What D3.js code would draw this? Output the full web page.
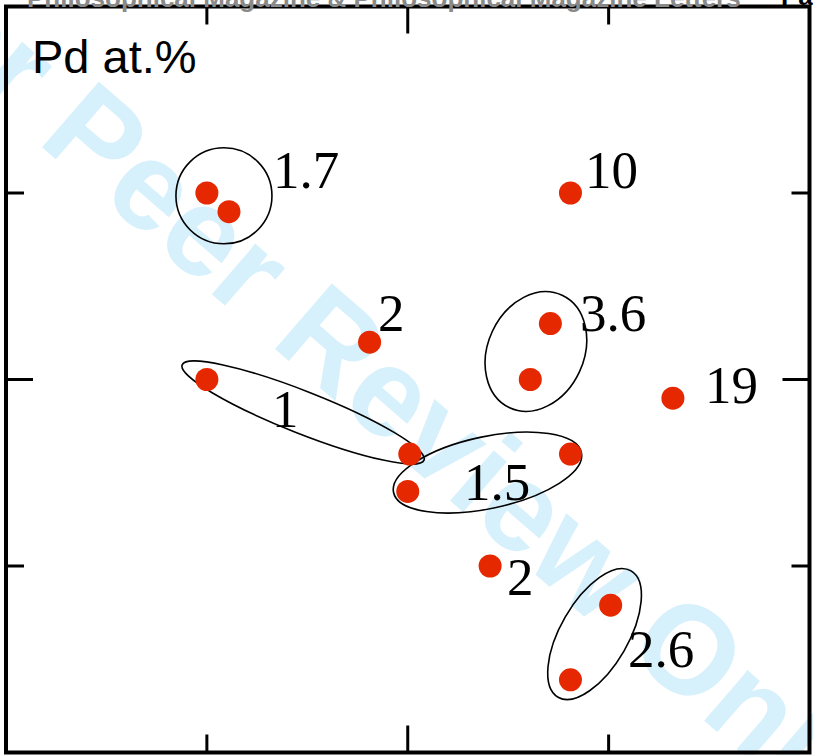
<!DOCTYPE html>
<html>
<head>
<meta charset="utf-8">
<script src="https://cdn.jsdelivr.net/npm/d3@7"></script>
<style>
  body { margin: 0; background: #fff; }
  svg { display: block; }
</style>
</head>
<body>
<svg id="chart" width="813" height="755"></svg>
<script>
// ===============================
// Dades
// ===============================
const xTicks = [1, 2, 3];
const yTicks = [1, 2, 3];

// punts mesurats
const pointX = [1.00, 1.11, 2.81, 1.81, 2.71, 2.61, 3.32, 1.00, 2.01, 2.00, 2.81, 2.41, 3.01, 2.81];
const pointY = [3.00, 2.90, 3.00, 2.20, 2.30, 2.00, 1.90, 2.00, 1.60, 1.40, 1.60, 1.00, 0.79, 0.39];

// grups (el·lipses): centre, semieixos (unitats x) i angle
const groupX = [1.085, 1.479, 2.638, 2.397, 2.930];
const groupY = [2.985, 1.823, 2.150, 1.501, 0.635];
const groupA = [0.239, 0.647, 0.239, 0.478, 0.169];
const groupB = [0.239, 0.105, 0.309, 0.179, 0.363];
const groupAngle = [0, 21.5, 25, -12, 30];

// etiquetes de concentració
const labelText = ["1.7", "10", "2", "3.6", "19", "1", "1.5", "2", "2.6"];
const labelX = [1.329, 2.882, 1.852, 2.857, 3.480, 1.324, 2.280, 2.494, 3.097];
const labelY = [3.027, 3.027, 2.260, 2.260, 1.874, 1.745, 1.354, 0.845, 0.459];

const titleText = "Pd at.%";
const headerText = "Philosophical Magazine & Philosophical Magazine Letters";
const watermarkText = "For Peer Review Only";

// ===============================
// Escales
// ===============================
const svg = d3.select("#chart");

const x = d3.scaleLinear().domain([0, 4]).range([6, 809.5]);
const y = d3.scaleLinear().domain([0, 4]).range([752.5, 6.5]);
const kx = x(1) - x(0);

// ===============================
// Marca d'aigua
// ===============================
svg.append("text")
  .attr("transform", "translate(-144,-14) rotate(40.9)")
  .text(watermarkText)
  .style("font-family", "'Liberation Sans', Arial, sans-serif")
  .style("font-size", "126px")
  .style("font-weight", "bold")
  .style("fill", "#d6f0fc");

// ===============================
// El·lipses
// ===============================
svg.selectAll(".group")
  .data(groupX)
  .enter()
  .append("ellipse")
  .attr("class", "group")
  .attr("transform", (d, i) => `translate(${x(d)},${y(groupY[i])}) rotate(${groupAngle[i]})`)
  .attr("rx", (d, i) => groupA[i] * kx)
  .attr("ry", (d, i) => groupB[i] * kx)
  .attr("fill", "none")
  .attr("stroke", "#000")
  .attr("stroke-width", 1.6);

// ===============================
// Punts
// ===============================
svg.selectAll(".dot")
  .data(pointX)
  .enter()
  .append("circle")
  .attr("class", "dot")
  .attr("cx", d => x(d))
  .attr("cy", (d, i) => y(pointY[i]))
  .attr("r", 11.5)
  .attr("fill", "#e52800");

// ===============================
// Etiquetes
// ===============================
svg.selectAll(".lbl")
  .data(labelText)
  .enter()
  .append("text")
  .attr("class", "lbl")
  .attr("x", (d, i) => x(labelX[i]))
  .attr("y", (d, i) => y(labelY[i]))
  .text(d => d)
  .style("font-family", "'Liberation Serif', 'Times New Roman', serif")
  .style("font-size", "53px")
  .style("fill", "#000");

svg.append("text")
  .attr("x", 32)
  .attr("y", 73)
  .text(titleText)
  .style("font-family", "'Liberation Sans', Arial, sans-serif")
  .style("font-size", "47px")
  .style("fill", "#000");

// ===============================
// Marc i marques
// ===============================
svg.append("rect")
  .attr("x", x(0))
  .attr("y", y(4))
  .attr("width", x(4) - x(0))
  .attr("height", y(0) - y(4))
  .attr("fill", "none")
  .attr("stroke", "#000")
  .attr("stroke-width", 4);

const tickLen = d => d === 2 ? 27 : 18;

svg.selectAll(".tick-b")
  .data(xTicks)
  .enter()
  .append("line")
  .attr("x1", d => x(d)).attr("x2", d => x(d))
  .attr("y1", y(0)).attr("y2", d => y(0) - tickLen(d));

svg.selectAll(".tick-t")
  .data(xTicks)
  .enter()
  .append("line")
  .attr("x1", d => x(d)).attr("x2", d => x(d))
  .attr("y1", y(4)).attr("y2", d => y(4) + tickLen(d));

svg.selectAll(".tick-l")
  .data(yTicks)
  .enter()
  .append("line")
  .attr("y1", d => y(d)).attr("y2", d => y(d))
  .attr("x1", x(0)).attr("x2", d => x(0) + tickLen(d));

svg.selectAll(".tick-r")
  .data(yTicks)
  .enter()
  .append("line")
  .attr("y1", d => y(d)).attr("y2", d => y(d))
  .attr("x1", x(4)).attr("x2", d => x(4) - tickLen(d));

svg.selectAll("line")
  .attr("stroke", "#000")
  .attr("stroke-width", 3);

// ===============================
// Capçalera (tallada)
// ===============================
svg.append("text")
  .attr("x", 27)
  .attr("y", 7)
  .text(headerText)
  .style("font-family", "'Liberation Sans', Arial, sans-serif")
  .style("font-size", "26px")
  .style("font-weight", "bold")
  .style("fill", "#8a8a8a");

svg.append("text")
  .attr("x", 781)
  .attr("y", 5)
  .text("Page")
  .style("font-family", "'Liberation Sans', Arial, sans-serif")
  .style("font-size", "26px")
  .style("font-weight", "bold")
  .style("fill", "#000");
</script>
</body>
</html>
